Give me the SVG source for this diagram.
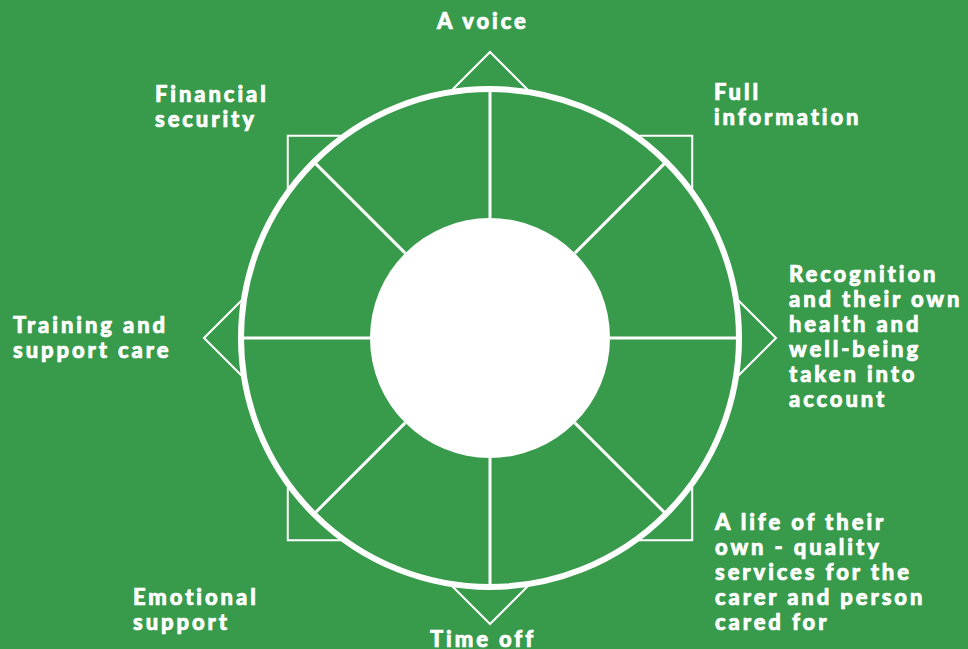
<svg xmlns="http://www.w3.org/2000/svg" width="968" height="649" viewBox="0 0 968 649">
<style>
.lbl{font-family:Lato,"Open Sans","Liberation Sans",sans-serif;font-weight:900;font-size:22px;letter-spacing:2.9px;fill:#fff;stroke:#fff;stroke-width:0.7px}
.tab{fill:none;stroke:#fff;stroke-width:2}
.spoke{stroke:#fff;stroke-width:3}
</style>
<defs>
<polygon id="tab" points="0,-286 36.77,-249.2 0,-212.5 -36.77,-249.2"/>
</defs>
<rect width="968" height="649" fill="#389b4c"/>
<g id="tabs" transform="translate(490,338)" class="tab">
<use href="#tab"/>
<use href="#tab" transform="rotate(45)"/>
<use href="#tab" transform="rotate(90)"/>
<use href="#tab" transform="rotate(135)"/>
<use href="#tab" transform="rotate(180)"/>
<use href="#tab" transform="rotate(225)"/>
<use href="#tab" transform="rotate(270)"/>
<use href="#tab" transform="rotate(315)"/>
</g>
<g id="wheel">
<circle cx="490" cy="338" r="249" fill="#389b4c" stroke="#fff" stroke-width="6"/>
</g>
<g id="connectors" transform="translate(490,338)" class="spoke">
<line x1="0" y1="-120" x2="0" y2="-247"/>
<line x1="0" y1="-120" x2="0" y2="-247" transform="rotate(45)"/>
<line x1="0" y1="-120" x2="0" y2="-247" transform="rotate(90)"/>
<line x1="0" y1="-120" x2="0" y2="-247" transform="rotate(135)"/>
<line x1="0" y1="-120" x2="0" y2="-247" transform="rotate(180)"/>
<line x1="0" y1="-120" x2="0" y2="-247" transform="rotate(225)"/>
<line x1="0" y1="-120" x2="0" y2="-247" transform="rotate(270)"/>
<line x1="0" y1="-120" x2="0" y2="-247" transform="rotate(315)"/>
</g>
<g id="hub">
<circle cx="490" cy="338" r="120" fill="#fff"/>
</g>
<g id="n-voice"><text class="lbl" x="437" y="29">A voice</text></g>
<g id="n-info"><text class="lbl" x="714" y="100">Full</text><text class="lbl" x="714" y="125">information</text></g>
<g id="n-recog"><text class="lbl" x="789" y="282">Recognition</text><text class="lbl" x="789" y="307">and their own</text><text class="lbl" x="789" y="332">health and</text><text class="lbl" x="789" y="357">well-being</text><text class="lbl" x="789" y="382">taken into</text><text class="lbl" x="789" y="407">account</text></g>
<g id="n-life"><text class="lbl" x="715" y="530">A life of their</text><text class="lbl" x="715" y="555">own - quality</text><text class="lbl" x="715" y="580">services for the</text><text class="lbl" x="715" y="605">carer and person</text><text class="lbl" x="715" y="630">cared for</text></g>
<g id="n-time"><text class="lbl" x="430" y="647">Time off</text></g>
<g id="n-emo"><text class="lbl" x="133" y="605">Emotional</text><text class="lbl" x="133" y="630">support</text></g>
<g id="n-train"><text class="lbl" x="13" y="333">Training and</text><text class="lbl" x="13" y="358">support care</text></g>
<g id="n-fin"><text class="lbl" x="155" y="102">Financial</text><text class="lbl" x="155" y="127">security</text></g>
</svg>
